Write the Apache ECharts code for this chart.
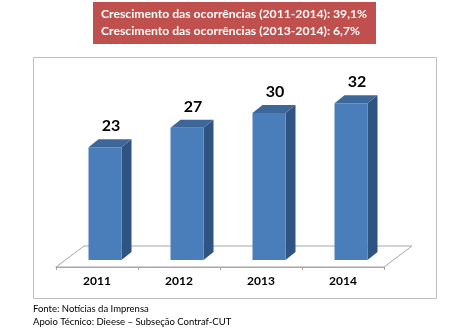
<!DOCTYPE html>
<html><head><meta charset="utf-8">
<script src="https://cdn.jsdelivr.net/npm/echarts@6/dist/echarts.min.js"></script>
<style>html,body{margin:0;padding:0;background:#fff}#c{width:472px;height:332px}</style>
</head><body><div id="c"></div>
<script>
const categories = ['2011', '2012', '2013', '2014'];
const values = [23, 27, 30, 32];
const headerLines = ['Crescimento das ocorrências (2011-2014): 39,1%', 'Crescimento das ocorrências (2013-2014): 6,7%'];
const footerLines = ['Fonte: Notícias da Imprensa', 'Apoio Técnico: Dieese – Subseção Contraf-CUT'];

const chart = echarts.init(document.getElementById('c'), null, {renderer: 'canvas'});
const BAR_SHIFT = [8, -7];
const DEPTH = [10, -8];
const FLOOR_DEPTH = [28, -21];
const BAR_W = 33;

function barItem(params, api) {
  const c = api.coord([api.value(0), api.value(1)]);
  const base = api.coord([api.value(0), 0]);
  const x0 = c[0] + BAR_SHIFT[0] - BAR_W / 2;
  const x1 = x0 + BAR_W;
  const yt = c[1] + BAR_SHIFT[1];
  const yb = base[1] + BAR_SHIFT[1];
  const dx = DEPTH[0], dy = DEPTH[1];
  return {type: 'group', children: [
    {type: 'polygon', shape: {points: [[x1, yt], [x1 + dx, yt + dy], [x1 + dx, yb + dy], [x1, yb]]}, style: {fill: '#2F5482'}},
    {type: 'polygon', shape: {points: [[x0, yt], [x0 + dx, yt + dy], [x1 + dx, yt + dy], [x1, yt]]}, style: {fill: '#3D6799'}},
    {type: 'rect', shape: {x: x0, y: yt, width: BAR_W, height: yb - yt}, style: {fill: '#4A7EBB'}},
    {type: 'text', style: {text: String(api.value(1)), x: (x0 + x1 + dx) / 2 + 1, y: yt - 21, align: 'center', verticalAlign: 'middle', font: 'bold 16px Lato', fill: '#000'}}
  ]};
}

function floorItem(params, api) {
  const cs = params.coordSys;
  const xl = cs.x, xr = cs.x + cs.width, y = cs.y + cs.height;
  const dx = FLOOR_DEPTH[0], dy = FLOOR_DEPTH[1];
  return {type: 'polygon', shape: {points: [[xl, y], [xr, y], [xr + dx, y + dy], [xl + dx, y + dy]]},
    style: {fill: '#fff', stroke: '#A6A6A6', lineWidth: 1}};
}

const graphics = [
  {type: 'rect', shape: {x: 33.5, y: 57.5, width: 403, height: 241}, style: {fill: 'none', stroke: '#BFBFBF', lineWidth: 1}, z: 0},
  {type: 'rect', shape: {x: 93, y: 2, width: 283, height: 42}, style: {fill: '#C0504D'}},
  {type: 'text', left: 101, top: 8, style: {text: headerLines[0], font: 'bold 12.2px Lato', fill: '#fff'}},
  {type: 'text', left: 101, top: 25, style: {text: headerLines[1], font: 'bold 12.2px Lato', fill: '#fff'}},
  {type: 'text', left: 33, top: 304, style: {text: footerLines[0], font: '9.5px Lato', fill: '#000'}},
  {type: 'text', left: 33, top: 317, style: {text: footerLines[1], font: '9.5px Lato', fill: '#000'}}
];

chart.setOption({
  animation: false,
  graphic: graphics,
  grid: {left: 56, width: 328, top: 71, height: 196},
  xAxis: {type: 'category', data: categories,
    axisLine: {show: true, lineStyle: {color: '#A6A6A6'}},
    axisTick: {show: true, length: 3, lineStyle: {color: '#A6A6A6'}},
    axisLabel: {margin: 8, color: '#000', fontFamily: 'Lato', fontWeight: 'bold', fontSize: 12}},
  yAxis: {type: 'value', min: 0, max: 40, show: false},
  series: [
    {type: 'custom', renderItem: floorItem, data: [[0, 0]], z: 1, silent: true},
    {type: 'custom', renderItem: barItem, data: categories.map((c, i) => [i, values[i]]), z: 3}
  ]
});
</script></body></html>
